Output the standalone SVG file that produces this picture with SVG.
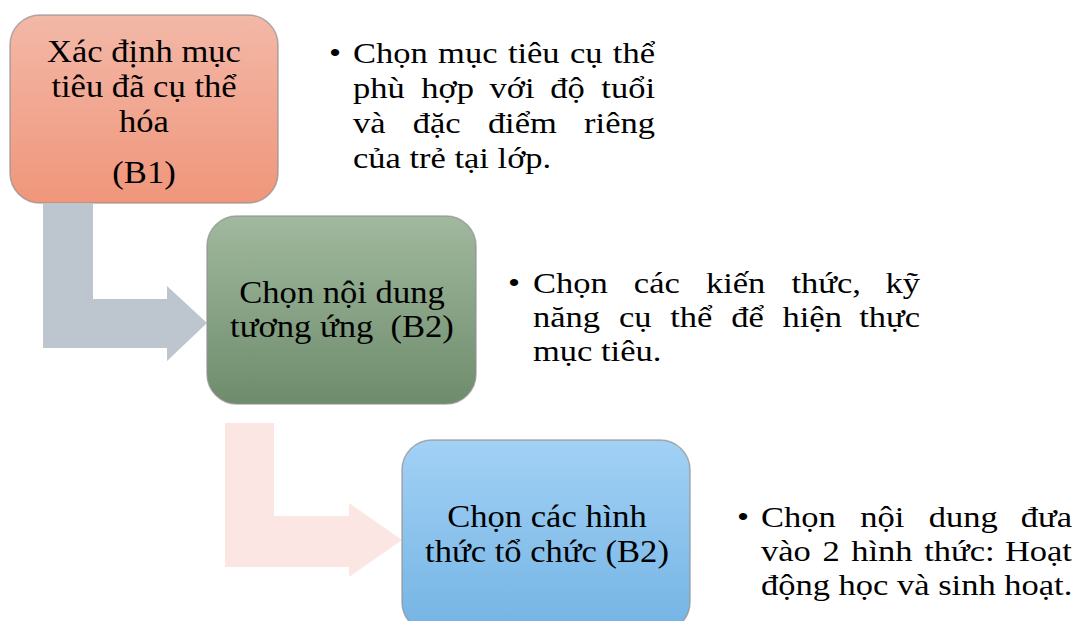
<svg xmlns="http://www.w3.org/2000/svg" width="1078" height="621" viewBox="0 0 1078 621">
<style>
text{font-family:"Liberation Serif","Times New Roman",serif;font-size:30px;fill:#000}
.bt{font-size:31px}
.c{text-anchor:middle}
.e{text-anchor:end}
.box{stroke:#8f8f8f;stroke-opacity:0.7;stroke-width:1.5}
</style>
<defs>
<linearGradient id="g1" x1="0" y1="0" x2="0" y2="1"><stop offset="0" stop-color="#f3b8a7"/><stop offset="1" stop-color="#f0967b"/></linearGradient>
<linearGradient id="g2" x1="0" y1="0" x2="0" y2="1"><stop offset="0" stop-color="#a1b99e"/><stop offset="1" stop-color="#6e8c6c"/></linearGradient>
<linearGradient id="g3" x1="0" y1="0" x2="0" y2="1"><stop offset="0" stop-color="#a2d1f5"/><stop offset="1" stop-color="#74b4e4"/></linearGradient>
</defs>
<rect width="1078" height="621" fill="#fff"/>
<g id="connectors">
<polygon points="43,204 93,204 93,299 167,299 167,286 207,323 167,361 167,348 43,348" fill="#bdc6cf"/>
<polygon points="225,423 274,423 274,516 349,516 349,503 402,540 349,577 349,567 225,567" fill="#fbe6e3"/>
</g>
<g id="node-b1">
<rect class="box" x="10" y="15" width="268" height="188" rx="30" fill="url(#g1)"/>
<g transform="translate(144 0) scale(1.115 1)">
<text class="c bt" x="0" y="62">Xác định mục</text>
<text class="c bt" x="0" y="97">tiêu đã cụ thể</text>
<text class="c bt" x="0" y="132">hóa</text>
<text class="c bt" x="0" y="183">(B1)</text>
</g>
</g>
<g id="node-b2">
<rect class="box" x="207" y="216" width="269" height="188" rx="30" fill="url(#g2)"/>
<g transform="translate(342 0) scale(1.115 1)">
<text class="c bt" x="0" y="303">Chọn nội dung</text>
<text class="c bt" x="0" y="337">tương ứng&#160; (B2)</text>
</g>
</g>
<g id="node-b3">
<rect class="box" x="402" y="440" width="288" height="192" rx="30" fill="url(#g3)"/>
<g transform="translate(547 0) scale(1.115 1)">
<text class="c bt" x="0" y="527">Chọn các hình</text>
<text class="c bt" x="0" y="562">thức tổ chức (B2)</text>
</g>
</g>
<g id="note-b1" transform="translate(353 0) scale(1.15 1)">
<text class="c" x="-15.7" y="63">•</text>
<text x="0" y="63">Chọn</text><text x="74" y="63">mục</text><text x="134.7" y="63">tiêu</text><text x="188.7" y="63">cụ</text><text class="e" x="262.6" y="63">thể</text>
<text x="0" y="98">phù</text><text x="59.4" y="98">hợp</text><text x="118.8" y="98">với</text><text x="171.6" y="98">độ</text><text class="e" x="262.6" y="98">tuổi</text>
<text x="0" y="133">và</text><text x="52" y="133">đặc</text><text x="117.3" y="133">điểm</text><text class="e" x="262.6" y="133">riêng</text>
<text x="0" y="168">của trẻ tại lớp.</text>
</g>
<g id="note-b2" transform="translate(533 0) scale(1.15 1)">
<text class="c" x="-16.5" y="293">•</text>
<text x="0" y="293">Chọn</text><text x="87.7" y="293">các</text><text x="150.4" y="293">kiến</text><text x="224.8" y="293">thức,</text><text class="e" x="336.5" y="293">kỹ</text>
<text x="0" y="327">năng</text><text x="74.7" y="327">cụ</text><text x="119.3" y="327">thể</text><text x="172.3" y="327">để</text><text x="217" y="327">hiện</text><text class="e" x="336.5" y="327">thực</text>
<text x="0" y="361">mục tiêu.</text>
</g>
<g id="note-b3" transform="translate(761 0) scale(1.15 1)">
<text class="c" x="-15.7" y="527">•</text>
<text x="0" y="527">Chọn</text><text x="86.3" y="527">nội</text><text x="145.8" y="527">dung</text><text class="e" x="270.4" y="527">đưa</text>
<text x="0" y="561">vào</text><text x="53.4" y="561">2</text><text x="78.5" y="561">hình</text><text x="141.9" y="561">thức:</text><text class="e" x="270.4" y="561">Hoạt</text>
<text x="0" y="595">động học và sinh hoạt.</text>
</g>
</svg>
